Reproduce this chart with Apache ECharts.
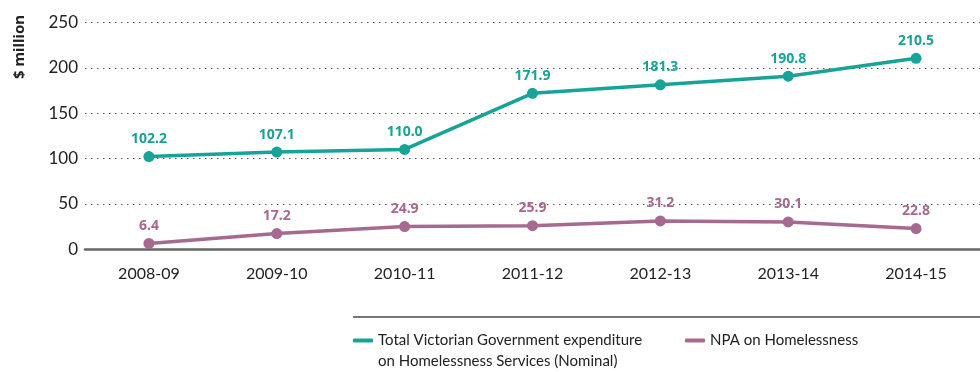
<!DOCTYPE html>
<html>
<head>
<meta charset="utf-8">
<script src="https://cdn.jsdelivr.net/npm/echarts@6/dist/echarts.min.js"></script>
<style>
  html, body { margin: 0; padding: 0; background: #fff; }
  #chart { width: 980px; height: 372px; }
</style>
</head>
<body>
<div id="chart"></div>
<script>
// Financial years on the x axis
const years = ['2008-09', '2009-10', '2010-11', '2011-12', '2012-13', '2013-14', '2014-15'];

// Expenditure, $ million
const totalVicExpenditure = [102.2, 107.1, 110.0, 171.9, 181.3, 190.8, 210.5];
const npaHomelessness = [6.4, 17.2, 24.9, 25.9, 31.2, 30.1, 22.8];

// Value axis ticks
const yTicks = [0, 50, 100, 150, 200, 250];

const seriesNames = [
  'Total Victorian Government expenditure\non Homelessness Services (Nominal)',
  'NPA on Homelessness'
];

const TEAL = '#17a398';
const PURPLE = '#a6698f';
const axisFont = 'Lato, "Open Sans", sans-serif';

const chart = echarts.init(document.getElementById('chart'), null, { renderer: 'canvas' });

function lineSeries(name, data, color) {
  return {
    name: name,
    type: 'line',
    data: data,
    symbol: 'circle',
    symbolSize: 11,
    lineStyle: { color: color, width: 3.5 },
    itemStyle: { color: color },
    label: {
      show: true,
      position: 'top',
      distance: 5,
      color: color,
      fontFamily: '"Noto Sans", sans-serif',
      fontWeight: 'bold',
      fontSize: 14,
      formatter: p => p.value.toFixed(1)
    },
    emphasis: { disabled: true },
    animation: false
  };
}

const legendText = { color: '#222', fontFamily: axisFont, fontSize: 15, lineHeight: 21 };

chart.setOption({
  animation: false,
  grid: { left: 85, right: -4, top: 22.5, bottom: 122.8, containLabel: false },
  xAxis: {
    type: 'category',
    data: years,
    boundaryGap: true,
    axisLine: { show: true, lineStyle: { color: '#666', width: 2.5 } },
    axisTick: { show: false },
    axisLabel: { color: '#222', fontFamily: axisFont, fontSize: 16, margin: 17 }
  },
  yAxis: {
    type: 'value',
    min: yTicks[0],
    max: yTicks[yTicks.length - 1],
    interval: yTicks[1] - yTicks[0],
    axisLine: { show: false },
    axisTick: { show: false },
    axisLabel: { color: '#222', fontFamily: axisFont, fontSize: 17, margin: 7 },
    splitLine: { show: true, lineStyle: { color: '#555', width: 1.2, type: [1.5, 4.5] } }
  },
  legend: [
    {
      // leading blank line keeps the first text line level with the icon
      data: [seriesNames[0]],
      formatter: name => '\n' + name,
      left: 353,
      top: 309,
      padding: 0,
      icon: 'roundRect',
      itemWidth: 20,
      itemHeight: 4,
      itemGap: 10,
      selectedMode: false,
      textStyle: legendText
    },
    {
      data: [seriesNames[1]],
      left: 685,
      top: 330,
      padding: 0,
      icon: 'roundRect',
      itemWidth: 20,
      itemHeight: 4,
      selectedMode: false,
      textStyle: legendText
    }
  ],
  graphic: [
    {
      type: 'text',
      x: 20,
      y: 47,
      rotation: Math.PI / 2,
      style: {
        text: '$ million',
        fontFamily: '"Noto Sans", sans-serif',
        fontWeight: 'bold',
        fontSize: 15,
        fill: '#222',
        align: 'center',
        verticalAlign: 'middle'
      }
    },
    {
      type: 'line',
      shape: { x1: 353, y1: 317, x2: 980, y2: 317 },
      style: { stroke: '#777', lineWidth: 2 }
    }
  ],
  series: [
    lineSeries(seriesNames[0], totalVicExpenditure, TEAL),
    lineSeries(seriesNames[1], npaHomelessness, PURPLE)
  ]
});
</script>
</body>
</html>
